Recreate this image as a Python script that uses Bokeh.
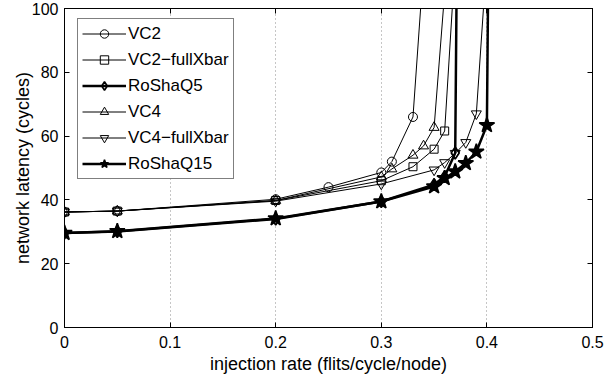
from bokeh.plotting import figure
from bokeh.models import LinearAxis, FixedTicker, Legend, LegendItem, Range1d
from bokeh.embed import file_html
from bokeh.resources import INLINE

# ---- data ----
rate_vc2 = [0, 0.05, 0.2, 0.25, 0.3, 0.31, 0.33, 0.34]
lat_vc2 = [36.2, 36.5, 40.2, 44.0, 48.6, 52.0, 66.0, 113]

rate_vc2x = [0, 0.05, 0.2, 0.3, 0.33, 0.35, 0.36, 0.37]
lat_vc2x = [36.2, 36.5, 39.8, 46.0, 50.4, 55.9, 61.6, 115]

rate_rq5 = [0, 0.05, 0.2, 0.3, 0.35, 0.36, 0.37, 0.375]
lat_rq5 = [29.6, 30.1, 34.0, 39.5, 44.8, 47.3, 54.7, 250]

rate_vc4 = [0, 0.05, 0.2, 0.3, 0.31, 0.33, 0.34, 0.35, 0.36]
lat_vc4 = [36.2, 36.5, 39.8, 47.2, 49.7, 54.0, 56.9, 62.7, 105]

rate_vc4x = [0, 0.05, 0.2, 0.3, 0.35, 0.36, 0.37, 0.38, 0.39, 0.40]
lat_vc4x = [36.2, 36.5, 39.6, 45.0, 49.4, 51.7, 54.6, 58.0, 67.0, 116]

rate_rq15 = [0, 0.05, 0.2, 0.3, 0.35, 0.36, 0.37, 0.38, 0.39, 0.40, 0.405]
lat_rq15 = [29.6, 30.2, 34.2, 39.5, 44.2, 46.8, 48.9, 51.5, 55.1, 63.4, 250]

series_names = ["VC2", "VC2\u2212fullXbar", "RoShaQ5", "VC4", "VC4\u2212fullXbar", "RoShaQ15"]

x_ticks = [0, 0.1, 0.2, 0.3, 0.4, 0.5]
x_tick_labels = ["0", "0.1", "0.2", "0.3", "0.4", "0.5"]
y_ticks = [0, 20, 40, 60, 80, 100]
y_tick_labels = ["0", "20", "40", "60", "80", "100"]

x_title = "injection rate (flits/cycle/node)"
y_title = "network latency (cycles)"

FONT = "Liberation Sans"

p = figure(width=605, height=376, output_backend="svg", toolbar_location=None,
           x_range=Range1d(0, 0.5), y_range=Range1d(0, 100),
           min_border_left=64, min_border_right=13, min_border_top=8, min_border_bottom=48)
p.background_fill_color = "white"
p.border_fill_color = "white"
p.outline_line_color = "black"
p.outline_line_width = 1

xt = FixedTicker(ticks=x_ticks)
yt = FixedTicker(ticks=y_ticks)

for ax, t, labs in ((p.xaxis[0], xt, x_tick_labels), (p.yaxis[0], yt, y_tick_labels)):
    ax.ticker = t
    ax.major_label_overrides = {v: s for v, s in zip(t.ticks, labs)}
    ax.major_tick_in = 5
    ax.major_tick_out = 0
    ax.minor_tick_line_color = None
    ax.axis_line_color = "black"
    ax.major_tick_line_color = "black"
    ax.major_label_text_font = FONT
    ax.major_label_text_font_size = "16px"
    ax.major_label_text_color = "black"
    ax.axis_label_text_font = FONT
    ax.axis_label_text_font_size = "18px"
    ax.axis_label_text_font_style = "normal"
    ax.axis_label_text_color = "black"

p.xaxis.axis_label = x_title
p.yaxis.axis_label = y_title
p.xaxis.major_label_standoff = 8
p.xaxis.axis_label_standoff = 3
p.yaxis.major_label_standoff = 6
p.yaxis.axis_label_standoff = -4

# box-style tick marks on top and right (no labels)
for loc, t in (("above", xt), ("right", yt)):
    a = LinearAxis(ticker=t, major_label_text_font_size="1px", major_label_text_color=None,
                   major_label_standoff=0,
                   major_tick_in=5, major_tick_out=0, minor_tick_line_color=None,
                   axis_line_color="black", major_tick_line_color="black")
    p.add_layout(a, loc)

p.ygrid.grid_line_color = None
p.xgrid.ticker = xt
p.xgrid.grid_line_color = "#8c8c8c"
p.xgrid.grid_line_dash = "1 3"
p.xgrid.grid_line_width = 1

series = [
    (rate_vc2, lat_vc2, "circle", 9, 1.0, None),
    (rate_vc2x, lat_vc2x, "square", 8, 1.0, None),
    (rate_rq5, lat_rq5, "diamond", 12, 2.5, None),
    (rate_vc4, lat_vc4, "triangle", 10, 1.0, None),
    (rate_vc4x, lat_vc4x, "inverted_triangle", 10, 1.0, None),
    (rate_rq15, lat_rq15, "star", 16, 2.5, "black"),
]

items = []
for name, (xs, ys, mk, sz, lw, fill) in zip(series_names, series):
    l = p.line(xs, ys, line_color="black", line_width=lw)
    s = p.scatter(xs, ys, marker=mk, size=sz, line_color="black",
                  line_width=min(lw, 1.6), fill_color=fill)
    items.append(LegendItem(label=name, renderers=[l, s]))

leg = Legend(items=items, location=(13, 148))
leg.border_line_color = "black"
leg.border_line_width = 1
leg.background_fill_color = "white"
leg.background_fill_alpha = 1
leg.label_text_font = FONT
leg.label_text_font_size = "17px"
leg.label_text_color = "black"
leg.glyph_width = 44
leg.glyph_height = 21
leg.label_height = 21
leg.label_standoff = 2
leg.spacing = 5
leg.padding = 4
leg.margin = 0
p.add_layout(leg, "center")

open("out.html", "w").write(file_html(p, INLINE))
